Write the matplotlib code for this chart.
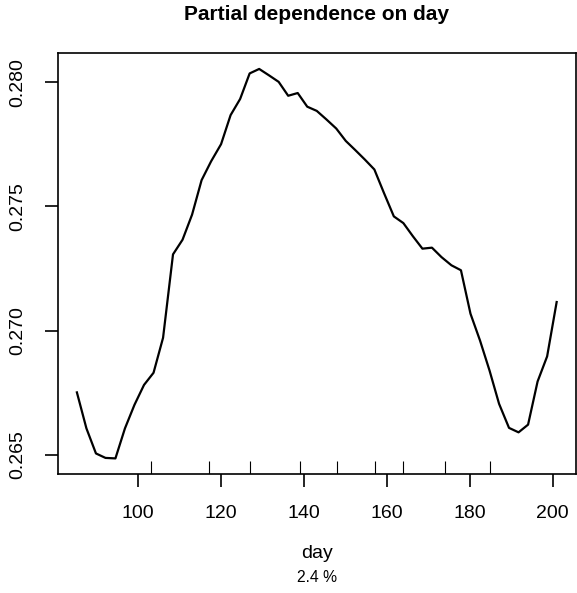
#Partial dependence of the fitted response on day
import numpy as np
import matplotlib
matplotlib.use('Agg')
import matplotlib.pyplot as plt
import matplotlib.transforms as mtransforms

plt.rcParams['font.family'] = ['Liberation Sans', 'DejaVu Sans']

# day grid (51 points) and fitted values
day = [85.2, 87.5, 89.8, 92.1, 94.5, 96.8, 99.1, 101.4, 103.7, 106.0,
       108.4, 110.7, 113.0, 115.3, 117.6, 120.0, 122.3, 124.6, 126.9, 129.2,
       131.5, 133.9, 136.2, 138.5, 140.8, 143.1, 145.4, 147.8, 150.1, 152.4,
       154.7, 157.0, 159.3, 161.7, 164.0, 166.3, 168.6, 170.9, 173.2, 175.6,
       177.9, 180.2, 182.5, 184.8, 187.1, 189.5, 191.8, 194.1, 196.4, 198.7,
       201.0]
fitted = [0.26751, 0.26606, 0.26505, 0.26487, 0.26485, 0.26606, 0.26701, 0.26781, 0.26830, 0.26971,
          0.27307, 0.27366, 0.27467, 0.27606, 0.27682, 0.27751, 0.27868, 0.27933, 0.28036, 0.28054,
          0.28029, 0.28002, 0.27946, 0.27957, 0.27902, 0.27885, 0.27851, 0.27814, 0.27764, 0.27727,
          0.27689, 0.27649, 0.27555, 0.27460, 0.27433, 0.27380, 0.27330, 0.27334, 0.27296, 0.27263,
          0.27243, 0.27068, 0.26960, 0.26839, 0.26705, 0.26608, 0.26590, 0.26621, 0.26795, 0.26896,
          0.27115]
# deciles of day shown as a rug
deciles = [103.2, 117.1, 127.0, 139.1, 148.1, 157.1, 164.0, 174.0, 185.0]
x_ticks = [100, 120, 140, 160, 180, 200]
y_ticks = [0.265, 0.270, 0.275, 0.280]
influence = '2.4 %'

fig = plt.figure(figsize=(5.77, 5.93), dpi=100)
ax = fig.add_axes([0.100, 0.2007, 0.898, 0.7093])

ax.plot(day, fitted, color='black', lw=1.6)

# rug along the bottom
trans = mtransforms.blended_transform_factory(ax.transData, ax.transAxes)
ax.vlines(deciles, 0, 0.03, transform=trans, color='black', lw=0.8)

# R style 4% padding
xr = max(day) - min(day)
yr = max(fitted) - min(fitted)
ax.set_xlim(min(day) - 0.04 * xr, max(day) + 0.04 * xr)
ax.set_ylim(min(fitted) - 0.04 * yr, max(fitted) + 0.04 * yr)

ax.set_xticks(x_ticks)
ax.set_xticklabels([str(t) for t in x_ticks])
ax.set_yticks(y_ticks)
ax.set_yticklabels(['%.3f' % t for t in y_ticks], rotation=90, va='center')
ax.tick_params(axis='both', direction='out', length=9.5, width=1.2,
               labelsize=14, pad=13)
for s in ax.spines.values():
    s.set_linewidth(1.2)

fig.text(0.549, 1 - 15 / 593, 'Partial dependence on day',
         ha='center', va='center', fontsize=15, fontweight='bold')
fig.text(0.549, 1 - 553 / 593, 'day', ha='center', va='center', fontsize=14)
fig.text(0.549, 1 - 578 / 593, influence, ha='center', va='center', fontsize=11.3)

fig.savefig('out.png', dpi=100)
